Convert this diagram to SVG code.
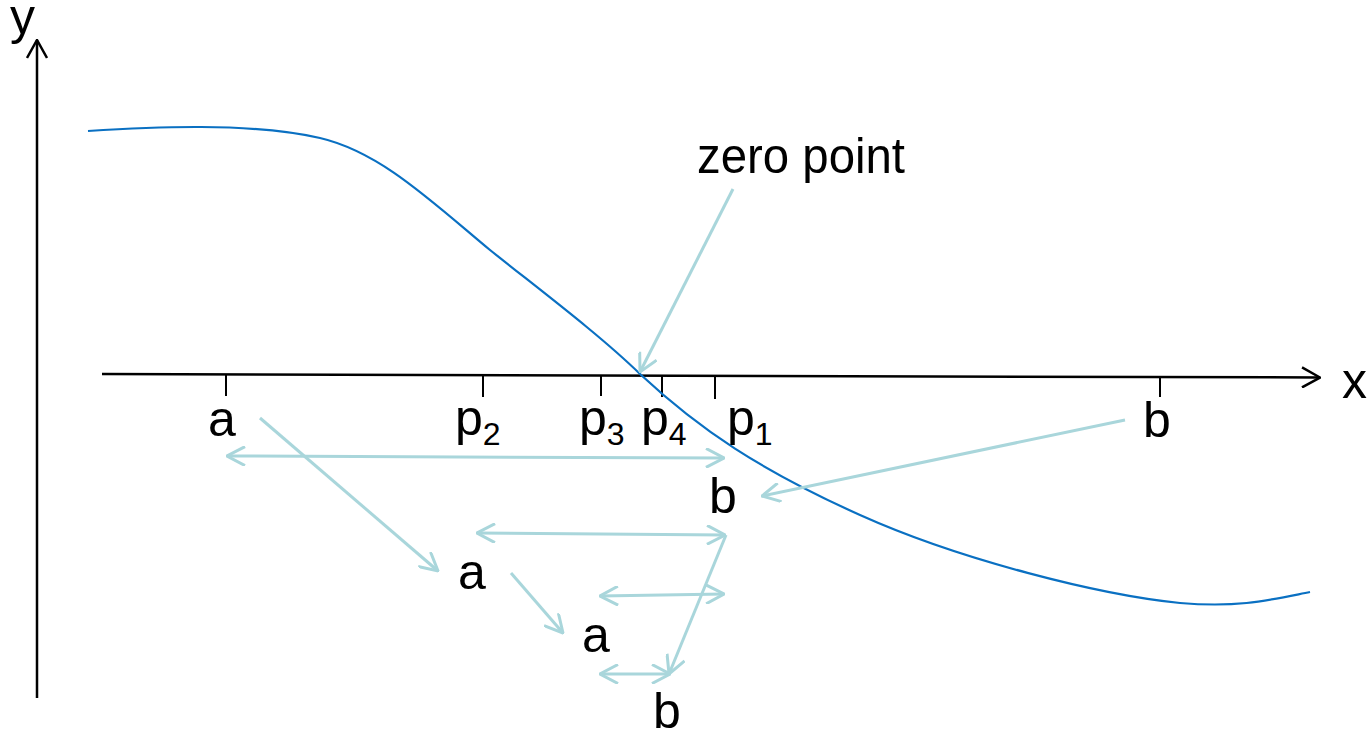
<svg xmlns="http://www.w3.org/2000/svg" width="1370" height="734" viewBox="0 0 1370 734">
<style>
.lbl{font-family:"Liberation Sans",Arial,sans-serif;font-size:50px;fill:#000}
.sub{font-size:32px}
.axis{stroke:#000;stroke-width:2.5;fill:none}
.tick{stroke:#000;stroke-width:2;fill:none}
.conn{stroke:#a9d6db;stroke-width:3;fill:none}
.curve{stroke:#0a70c2;stroke-width:2.2;fill:none}
</style>
<defs>
<marker id="ah" viewBox="0 0 20 20" refX="19" refY="10" markerWidth="20" markerHeight="20" markerUnits="userSpaceOnUse" orient="auto-start-reverse">
<path d="M1,0.5 L19,10 L1,19.5" fill="none" stroke="#a9d6db" stroke-width="3"/>
</marker>
<marker id="ahk" viewBox="0 0 20 22" refX="19" refY="11" markerWidth="20" markerHeight="22" markerUnits="userSpaceOnUse" orient="auto">
<path d="M1,1 L19,11 L1,21" fill="none" stroke="#000" stroke-width="2.5"/>
</marker>
</defs>
<rect width="1370" height="734" fill="#fff"/>
<g id="axes">
<line class="axis" x1="37" y1="698" x2="37" y2="40" marker-end="url(#ahk)"/>
<line class="axis" x1="102" y1="374" x2="1320" y2="377.5" marker-end="url(#ahk)"/>
<text class="lbl" x="10" y="34">y</text>
<text class="lbl" x="1342" y="398">x</text>
</g>
<g id="ticks">
<line class="tick" x1="226" y1="374" x2="226" y2="396"/>
<line class="tick" x1="483" y1="375" x2="483" y2="397"/>
<line class="tick" x1="601" y1="375" x2="601" y2="396"/>
<line class="tick" x1="662" y1="375" x2="662" y2="397"/>
<line class="tick" x1="715" y1="376" x2="715" y2="399"/>
<line class="tick" x1="1160" y1="377" x2="1160" y2="397"/>
</g>
<g id="curve">
<path class="curve" d="M88,131 C150,127 250,122 320,138 C380,152 430,200 490,250 C540,290 600,335 640,374 C700,430 760,470 860,515 C960,560 1100,595 1180,603 C1240,608 1270,600 1310,592"/>
</g>
<g id="labels">
<text class="lbl" x="208" y="436">a</text>
<text class="lbl" x="455" y="435">p<tspan class="sub" dy="10">2</tspan></text>
<text class="lbl" x="579" y="435">p<tspan class="sub" dy="10">3</tspan></text>
<text class="lbl" x="641" y="435">p<tspan class="sub" dy="10">4</tspan></text>
<text class="lbl" x="727" y="435">p<tspan class="sub" dy="10">1</tspan></text>
<text class="lbl" x="1143" y="437">b</text>
<text class="lbl" x="709" y="513">b</text>
<text class="lbl" x="458" y="589">a</text>
<text class="lbl" x="582" y="652">a</text>
<text class="lbl" x="653" y="728">b</text>
<text class="lbl" x="697" y="173" textLength="208" lengthAdjust="spacingAndGlyphs">zero point</text>
</g>
<g id="connectors">
<line class="conn" x1="733" y1="189" x2="640" y2="372" marker-end="url(#ah)"/>
<line class="conn" x1="1125" y1="420" x2="762" y2="496" marker-end="url(#ah)"/>
<line class="conn" x1="227" y1="456" x2="724" y2="458" marker-start="url(#ah)" marker-end="url(#ah)"/>
<line class="conn" x1="260" y1="418" x2="438" y2="571" marker-end="url(#ah)"/>
<line class="conn" x1="477" y1="533" x2="725" y2="535" marker-start="url(#ah)" marker-end="url(#ah)"/>
<line class="conn" x1="726" y1="535" x2="669" y2="674" marker-end="url(#ah)"/>
<line class="conn" x1="511" y1="573" x2="563" y2="633" marker-end="url(#ah)"/>
<line class="conn" x1="600" y1="596" x2="724" y2="594" marker-start="url(#ah)" marker-end="url(#ah)"/>
<line class="conn" x1="600" y1="674" x2="670" y2="674" marker-start="url(#ah)" marker-end="url(#ah)"/>
</g>
</svg>
